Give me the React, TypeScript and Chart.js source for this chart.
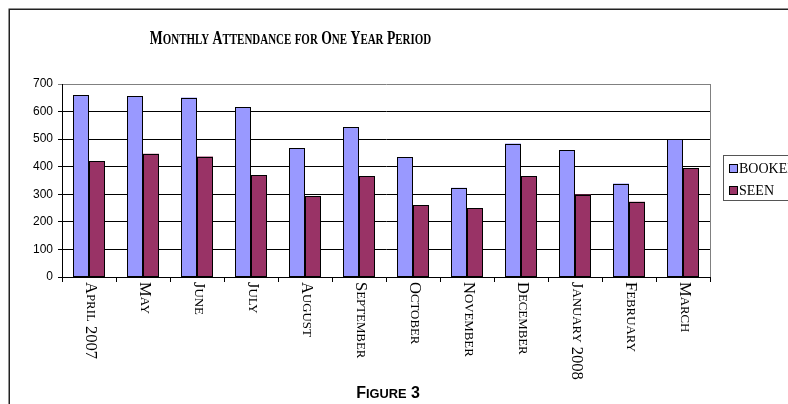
import React, { useEffect, useRef } from "react";
import { Chart, registerables } from "chart.js";

Chart.register(...registerables);

const categories = [
  "April 2007", "May", "June", "July", "August", "September",
  "October", "November", "December", "January 2008", "February", "March",
];
const booked = [660, 655, 651, 615, 467, 544, 434, 324, 484, 461, 339, 499];
const seen = [421, 447, 437, 370, 294, 365, 260, 249, 365, 299, 273, 394];
const yTicks = [0, 100, 200, 300, 400, 500, 600, 700];
const seriesNames = ["BOOKED", "SEEN"];
const titleText = "Monthly Attendance for One Year Period";
const captionText = "Figure 3";

const BOOKED_COLOR = "#9999FF";
const SEEN_COLOR = "#993366";

// draws text in small caps: lowercase letters become smaller capitals
function smallCaps(
  ctx: CanvasRenderingContext2D,
  text: string,
  x: number,
  y: number,
  size: number,
  ratio: number,
  family: string,
  weight: string,
  align: "left" | "center"
) {
  const runs: { t: string; s: number }[] = [];
  for (const ch of text) {
    const small = ch !== ch.toUpperCase();
    const s = small ? size * ratio : size;
    const t = ch.toUpperCase();
    if (runs.length && runs[runs.length - 1].s === s) runs[runs.length - 1].t += t;
    else runs.push({ t, s });
  }
  let total = 0;
  const widths = runs.map((r) => {
    ctx.font = `${weight} ${r.s}px ${family}`;
    const w = ctx.measureText(r.t).width;
    total += w;
    return w;
  });
  let cx = align === "center" ? x - total / 2 : x;
  ctx.textAlign = "left";
  runs.forEach((r, i) => {
    ctx.font = `${weight} ${r.s}px ${family}`;
    ctx.fillText(r.t, cx, y);
    cx += widths[i];
  });
}

const barOutlinePlugin = {
  id: "barOutline",
  afterDatasetsDraw(chart: any) {
    const ctx = chart.ctx;
    ctx.save();
    ctx.strokeStyle = "#000";
    ctx.lineWidth = 1;
    chart.data.datasets.forEach((_: any, di: number) => {
      const meta = chart.getDatasetMeta(di);
      meta.data.forEach((el: any) => {
        const l = Math.round(el.x - el.width / 2) + 0.5;
        const r = Math.round(el.x + el.width / 2) - 0.5;
        const t = Math.round(el.y) + 0.5;
        const b = Math.round(el.base) - 0.5;
        ctx.strokeRect(l, t, r - l, b - t);
      });
    });
    ctx.restore();
  },
};

const decorPlugin = {
  id: "decor",
  beforeDraw(chart: any) {
    const ctx = chart.ctx;
    ctx.save();
    ctx.fillStyle = "#fff";
    ctx.fillRect(0, 0, chart.width, chart.height);
    ctx.strokeStyle = "#222";
    ctx.lineWidth = 1.5;
    ctx.strokeRect(9.25, 9.25, chart.width + 50, chart.height + 50);
    ctx.restore();
  },
  afterDraw(chart: any) {
    const ctx = chart.ctx;
    const area = chart.chartArea;
    const xs = chart.scales.x;
    ctx.save();
    // right plot border
    ctx.strokeStyle = "#808080";
    ctx.lineWidth = 1;
    ctx.beginPath();
    ctx.moveTo(Math.round(area.right) + 0.5, area.top);
    ctx.lineTo(Math.round(area.right) + 0.5, area.bottom);
    ctx.stroke();

    // title
    ctx.fillStyle = "#000";
    ctx.textBaseline = "alphabetic";
    ctx.save();
    ctx.translate(290.5, 43.5);
    ctx.scale(0.74, 1);
    smallCaps(ctx, titleText, 0, 0, 18.5, 0.8, '"Liberation Serif"', "bold", "center");
    ctx.restore();

    // x labels rotated clockwise
    ctx.textBaseline = "middle";
    categories.forEach((c, i) => {
      const x = xs.getPixelForValue(i);
      ctx.save();
      ctx.translate(x + 1, area.bottom + 5);
      ctx.rotate(Math.PI / 2);
      smallCaps(ctx, c, 0, 0, 16.5, 0.78, '"Liberation Serif"', "normal", "left");
      ctx.restore();
    });

    // legend
    ctx.strokeStyle = "#555";
    ctx.lineWidth = 1;
    ctx.strokeRect(723.5, 155.5, 100, 45);
    const colors = [BOOKED_COLOR, SEEN_COLOR];
    const ys = [169, 191];
    ctx.font = '14px "Liberation Serif"';
    ctx.textBaseline = "middle";
    ctx.textAlign = "left";
    seriesNames.forEach((n, i) => {
      ctx.fillStyle = colors[i];
      ctx.fillRect(729.5, ys[i] - 4.5, 8, 8);
      ctx.strokeStyle = "#000";
      ctx.strokeRect(729.5, ys[i] - 4.5, 8, 8);
      ctx.fillStyle = "#000";
      ctx.fillText(n, 739, ys[i] + 0.5);
    });

    // caption
    ctx.textBaseline = "alphabetic";
    smallCaps(ctx, captionText, 388, 398, 16, 0.8, '"Liberation Sans"', "bold", "center");
    ctx.restore();
  },
};

export default function App() {
  const ref = useRef<HTMLCanvasElement>(null);
  useEffect(() => {
    if (!ref.current) return;
    const chart = new Chart(ref.current, {
      type: "bar",
      data: {
        labels: categories,
        datasets: [
          {
            label: seriesNames[0],
            data: booked,
            backgroundColor: BOOKED_COLOR,
            borderWidth: 0,
            categoryPercentage: 32 / 54,
            barPercentage: 1,
          },
          {
            label: seriesNames[1],
            data: seen,
            backgroundColor: SEEN_COLOR,
            borderWidth: 0,
            categoryPercentage: 32 / 54,
            barPercentage: 1,
          },
        ],
      },
      options: {
        animation: false,
        responsive: true,
        maintainAspectRatio: false,
        devicePixelRatio: 1,
        layout: { padding: { top: 84, right: 78, bottom: 0, left: 0 } },
        plugins: {
          legend: { display: false },
          title: { display: false },
          tooltip: { enabled: false },
        },
        scales: {
          x: {
            offset: true,
            grid: {
              display: true,
              offset: true,
              drawOnChartArea: false,
              tickLength: 5,
              color: "#000",
            },
            border: { display: true, color: "#000", width: 1 },
            ticks: { display: false },
            afterFit(scale: any) {
              scale.height = 127;
            },
          },
          y: {
            min: 0,
            max: 700,
            afterBuildTicks(scale: any) {
              scale.ticks = yTicks.map((v) => ({ value: v }));
            },
            grid: {
              color: (c: any) => (c.tick && c.tick.value === 700 ? "#808080" : "#000"),
              tickLength: 4,
            },
            border: { display: true, color: "#000", width: 1 },
            ticks: {
              padding: 5,
              color: "#000",
              font: { family: '"Liberation Sans"', size: 12 },
            },
            afterFit(scale: any) {
              scale.width = 62;
            },
          },
        },
      },
      plugins: [barOutlinePlugin, decorPlugin],
    });
    return () => chart.destroy();
  }, []);
  return (
    <div style={{ position: "fixed", left: 0, top: 0, width: 788, height: 404 }}>
      <canvas ref={ref} />
    </div>
  );
}
